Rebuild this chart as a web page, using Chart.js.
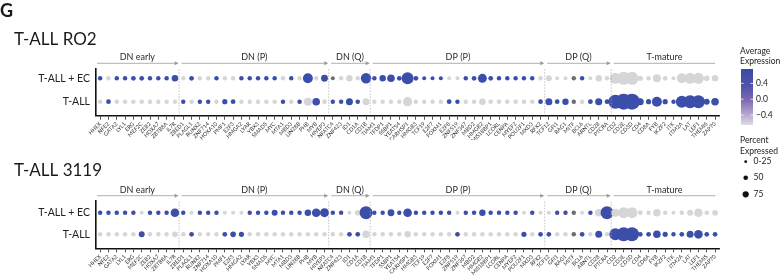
<!DOCTYPE html>
<html><head><meta charset="utf-8">
<script src="https://cdn.jsdelivr.net/npm/chart.js@4.4.1/dist/chart.umd.min.js"></script>
<style>
html,body{margin:0;padding:0;background:#fff;width:782px;height:280px;overflow:hidden}
canvas{position:absolute;left:0}
</style></head><body>
<canvas id="p1" width="782" height="140" style="top:0px"></canvas>
<canvas id="p2" width="782" height="140" style="top:140px"></canvas>
<canvas id="lg" width="782" height="280" style="top:0px;pointer-events:none"></canvas>
<script>
// ---------------- DATA ----------------
const genes = ['HHEX','NFE2','GATA2','LYL1','ERG','MEF2C','ZEB2','HOXA7','ZBTB8A','IL7R',
 'ZBED1','PLAGL1','RUNX2','ZNF714','HOXA10','PMF1','E2F3','HMGA2','LYAR','YBX3','SMAD5','MYC','MTA1','MBD3','LIN28B','PHB','MYB','HIVEP3',
 'NFATC4','ZNF423','ID1','CD1A','CD1B',
 'TIAM1','TFDP1','SSBP1','YEATS4','CARHSP1','HMGB3','TCF19','E2F7','FOXM1','E2F8','ZNF519','ZNF367','MBD2','HMGB2','MIS18BP1','LCORL','CENPA','MYEF2','POU2F1','MXD3','RFX2',
 'TCF12','GFI1','RAG1','MITF','BCL6','ARNTL','CD28','PTCRA',
 'CD2','CD3E','CD3D','CD4','CD8A','FYB','IKZF2','ITK','ITM2A','LAT','LEF1','THEMIS','ZAP70'];
const groupNames = ['DN early','DN (P)','DN (Q)','DP (P)','DP (Q)','T-mature'];
const groupSizes = [10,18,5,21,8,13];
const rowLabels = ['T-ALL + EC','T-ALL'];
const panelTitles = ['T-ALL RO2','T-ALL 3119'];

// scaled average expression (H high, L low, N = NA)
const H = 0.71, L = -0.71, N = null;
const ro2EcExpr = [H,L,H,H,H,H,H,H,H,H,
  L,H,L,L,H,L,L,H,H,H,H,H,L,H,L,H,L,H,
  N,L,L,L,H,
  H,H,H,H,H,H,H,H,H,L,L,H,H,H,H,H,H,H,H,H,L,
  L,L,L,N,H,L,L,L,
  L,L,L,L,L,L,L,L,L,L,L,L,L];
const ro2TExpr = [L,H,L,L,L,L,L,L,L,L,
  H,L,H,H,L,H,H,L,L,L,L,L,H,L,H,L,H,L,
  H,H,H,H,L,
  L,L,L,L,L,L,L,L,L,H,H,L,L,L,L,L,L,L,L,L,H,
  H,H,H,N,L,H,H,H,
  H,H,H,H,H,H,H,H,H,H,H,H,H];
const c3119EcExpr = [H,H,H,H,H,L,H,H,H,H,
  H,L,H,H,H,L,L,L,H,H,H,H,H,H,H,H,H,H,
  H,H,L,L,H,
  H,H,H,H,H,H,H,H,H,H,L,H,H,H,H,H,H,H,L,H,L,
  L,H,H,N,L,H,L,H,
  L,L,L,L,L,L,L,L,L,L,L,L,L];
const c3119TExpr = [L,L,L,L,L,H,L,L,L,L,
  L,H,L,L,L,H,H,H,L,L,L,L,L,L,L,L,L,L,
  L,L,H,H,L,
  L,L,L,L,L,L,L,L,L,L,H,L,L,L,L,L,L,L,H,L,H,
  H,L,L,N,H,L,H,L,
  H,H,H,H,H,H,H,H,H,H,H,H,H];

// percent expressed
const ro2EcPct = [23,23,23,23,25,25,23,23,23,37,
  23,25,23,23,23,23,23,23,23,23,23,23,23,23,23,60,23,39,
  20,23,36,23,63,
  23,36,44,25,73,25,20,20,20,20,20,23,25,53,25,23,23,23,23,23,23,
  33,20,20,23,23,20,36,23,
  67,80,80,28,23,47,25,20,60,67,67,31,37];
const ro2TPct = [23,25,23,23,23,23,23,23,23,23,
  23,23,23,23,23,28,25,23,23,23,23,23,23,23,23,47,44,25,
  23,23,40,23,40,
  23,23,23,23,55,23,23,23,23,25,23,23,23,37,23,23,23,23,23,23,25,
  40,25,36,23,23,25,41,25,
  87,100,100,40,28,60,28,23,73,80,80,33,44];
const c3119EcPct = [23,23,23,23,23,20,23,23,23,51,
  23,20,23,23,23,20,20,20,23,23,23,33,23,23,23,37,51,53,
  23,23,20,31,80,
  23,23,39,23,51,23,23,23,23,23,20,23,23,36,23,23,23,23,20,23,20,
  20,23,23,23,20,23,44,80,
  47,67,67,25,23,44,23,20,23,33,51,23,31];
const c3119TPct = [23,23,23,23,23,33,23,23,23,31,
  23,25,23,23,23,25,31,28,23,23,23,23,23,23,23,23,23,23,
  23,23,25,25,44,
  23,23,23,23,36,23,23,23,23,23,25,23,23,23,23,23,23,23,28,23,25,
  25,23,23,23,25,23,40,23,
  73,87,87,25,25,44,28,23,25,40,51,25,25];

const legendTicks = [0.4, 0.0, -0.4];
const sizeLegend = ['0-25','50','75'];

// ---------------- STYLE ----------------
const FONT = 'Lato, "Open Sans", sans-serif';
const BLUE = [59,78,170], GREY = [214,214,216], NA_COL = '#6d6d6d';
function colorFor(v){
  if (v === null || v === undefined) return NA_COL;
  let t = (v + 0.6) / 1.2; t = Math.max(0, Math.min(1, t));
  const c = GREY.map((g,k)=>Math.round(g + (BLUE[k]-g)*t));
  return `rgb(${c[0]},${c[1]},${c[2]})`;
}
function radiusFor(p){ return 0.5 + 0.075*p; }

const decor = {
  id:'decor',
  afterDraw(chart, args, opts){
    const ctx = chart.ctx, xs = chart.scales.x, area = chart.chartArea;
    ctx.save();
    ctx.fillStyle = '#1a1a1a';
    ctx.textBaseline = 'middle';
    if (opts.letter){
      ctx.font = `bold 18px ${FONT}`;
      ctx.fillText(opts.letter, 0, 11);
    }
    ctx.font = `17px ${FONT}`;
    ctx.fillText(opts.title, 14, opts.titleY);
    let start = 0;
    const ly = area.top - 5;
    groupSizes.forEach((n, gi) => {
      const end = start + n - 1;
      const x0 = xs.getPixelForValue(start - 0.5) + (gi===0?1:2.5);
      const x1 = xs.getPixelForValue(end + 0.5) - (gi===groupSizes.length-1 ? 4 : 1.5);
      ctx.strokeStyle = '#9c9c9c'; ctx.lineWidth = 0.8; ctx.setLineDash([]);
      ctx.beginPath(); ctx.moveTo(x0, ly); ctx.lineTo(x1, ly); ctx.stroke();
      if (gi < groupSizes.length-1){
        ctx.fillStyle = '#9c9c9c';
        ctx.beginPath(); ctx.moveTo(x1+1, ly); ctx.lineTo(x1-3, ly-2); ctx.lineTo(x1-3, ly+2); ctx.closePath(); ctx.fill();
        const dx = xs.getPixelForValue(end + 0.5);
        ctx.strokeStyle = '#a8a8a8'; ctx.lineWidth = 0.7; ctx.setLineDash([1.5,1.5]);
        ctx.beginPath(); ctx.moveTo(dx, area.top+1); ctx.lineTo(dx, area.bottom-1); ctx.stroke();
        ctx.setLineDash([]);
      }
      ctx.fillStyle = '#2a2a2a'; ctx.font = `9px ${FONT}`; ctx.textAlign = 'center';
      ctx.fillText(groupNames[gi], (x0+x1)/2, ly - 6);
      ctx.textAlign = 'left';
      start += n;
    });
    ctx.restore();
  }
};

function makePanel(id, expr, pct, cfg){
  const data = [];
  [0,1].forEach(row => {
    genes.forEach((g,i) => {
      data.push({x:i, y:row, r:radiusFor(pct[row][i]), v:expr[row][i]});
    });
  });
  return new Chart(document.getElementById(id), {
    type:'bubble',
    data:{datasets:[{data, backgroundColor:c=>colorFor(c.raw ? c.raw.v : null), borderWidth:0, hoverBorderWidth:0, hoverRadius:0}]},
    options:{
      responsive:false, animation:false, devicePixelRatio:1,
      events:[],
      layout:{padding:{top:cfg.top, right:62.8, left:0, bottom:0}},
      plugins:{legend:{display:false}, tooltip:{enabled:false}, decor:{title:cfg.title, titleY:cfg.titleY, letter:cfg.letter}},
      scales:{
        x:{type:'linear', min:-0.5, max:genes.length-0.5,
          afterBuildTicks:s=>{ s.ticks = genes.map((g,i)=>({value:i})); },
          afterFit:s=>{ s.height = cfg.xh; },
          ticks:{autoSkip:false, minRotation:45, maxRotation:45, padding:1, color:'#333',
            font:{size:5.5, family:FONT}, callback:v=>genes[v]},
          grid:{drawOnChartArea:false, tickLength:4, color:'#222', lineWidth:0.8},
          border:{display:true, color:'#111', width:1.6}
        },
        y:{type:'linear', reverse:true, min:cfg.ymin, max:cfg.ymax,
          afterBuildTicks:s=>{ s.ticks = [{value:0},{value:1}]; },
          afterFit:s=>{ s.width = 96; },
          ticks:{padding:6, color:'#222', font:{size:10.5, family:FONT}, callback:v=>rowLabels[v]},
          grid:{drawOnChartArea:false, drawTicks:false, display:true},
          border:{display:true, color:'#111', width:1.6}
        }
      }
    },
    plugins:[decor]
  });
}

makePanel('p1', [ro2EcExpr, ro2TExpr], [ro2EcPct, ro2TPct],
  {top:68.3, xh:24.3, ymin:-0.427, ymax:1.598, title:panelTitles[0], titleY:40, letter:'G'});
makePanel('p2', [c3119EcExpr, c3119TExpr], [c3119EcPct, c3119TPct],
  {top:60.7, xh:31.7, ymin:-0.556, ymax:1.648, title:panelTitles[1], titleY:31});

// ---------------- LEGEND ----------------
(function(){
  const ctx = document.getElementById('lg').getContext('2d');
  ctx.fillStyle = '#222';
  ctx.font = `8.5px ${FONT}`;
  ctx.textBaseline = 'middle';
  ctx.fillText('Average', 740, 51);
  ctx.fillText('Expression', 740, 61);
  const bx = 741, by = 69, bw = 12, bh = 56;
  const g = ctx.createLinearGradient(0, by, 0, by+bh);
  g.addColorStop(0, '#3c4aa6');
  g.addColorStop(0.3, '#4f52a9');
  g.addColorStop(0.55, '#7e68b2');
  g.addColorStop(0.8, '#b4a5cf');
  g.addColorStop(1, '#dddbe3');
  ctx.fillStyle = g; ctx.fillRect(bx, by, bw, bh);
  const vy = v => 99.2 - v*39.6;
  legendTicks.forEach(v=>{
    const y = vy(v);
    ctx.strokeStyle = '#fff'; ctx.lineWidth = 0.8;
    ctx.beginPath(); ctx.moveTo(bx, y); ctx.lineTo(bx+2.5, y); ctx.moveTo(bx+bw-2.5, y); ctx.lineTo(bx+bw, y); ctx.stroke();
    ctx.fillStyle = '#222';
    ctx.fillText((v<0?'\u2212':'') + Math.abs(v).toFixed(1), 756, y);
  });
  ctx.fillText('Percent', 740, 140);
  ctx.fillText('Expressed', 740, 151);
  const lr = [1.4, 2.3, 3.1], ly = [161.7, 177.7, 194.3];
  sizeLegend.forEach((s,i)=>{
    ctx.fillStyle = '#111';
    ctx.beginPath(); ctx.arc(745.7, ly[i], lr[i], 0, Math.PI*2); ctx.fill();
    ctx.fillStyle = '#222';
    ctx.fillText(s, 753.5, ly[i]);
  });
})();
</script>
</body></html>
